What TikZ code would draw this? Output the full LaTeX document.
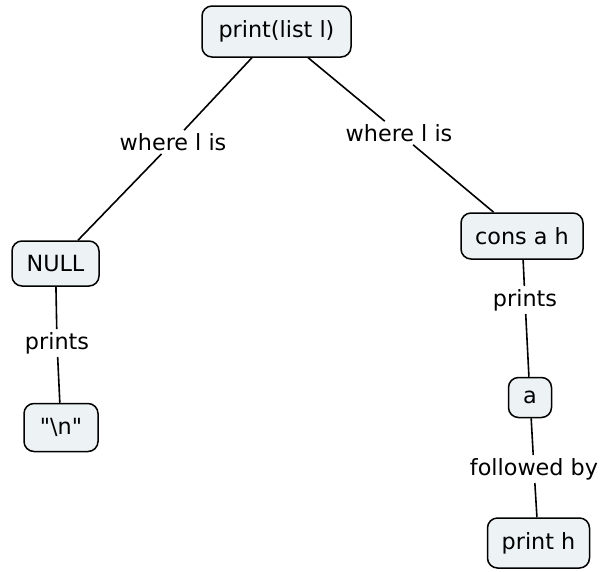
\documentclass[tikz,border=0pt]{standalone}
\usepackage{fontspec}
\setmainfont{DejaVu Sans}[Ligatures=TeXOff]
\definecolor{boxfill}{HTML}{EDF3F5}
\tikzset{
  concept/.style={draw=black, fill=boxfill, rounded corners=10pt, line width=1.5pt,
    inner sep=0pt, align=center, font=\fontsize{22.3}{26}\selectfont},
  linklabel/.style={inner sep=3pt, font=\fontsize{22.3}{26}\selectfont},
  link/.style={line width=1.6pt, draw=black}
}
\begin{document}
\begin{tikzpicture}[x=1pt,y=-1pt]
\useasboundingbox (0,0) rectangle (600,571);
% concepts
\node[concept, minimum width=149pt, minimum height=51pt] (root) at (276.5,31.5) {print(list l)};
\node[concept, minimum width=87pt, minimum height=45pt] (null) at (55.5,263.5) {NULL};
\node[concept, minimum width=74pt, minimum height=48pt] (nl) at (61,427.5) {"\textbackslash n"};
\node[concept, minimum width=122pt, minimum height=46pt] (cons) at (522,236) {cons a h};
\node[concept, minimum width=43pt, minimum height=40pt] (a) at (530,397.5) {a};
\node[concept, minimum width=102pt, minimum height=50pt] (ph) at (538.5,543) {print h};
% link labels
\node[linklabel] (l1) at (173,142) {where l is};
\node[linklabel] (l2) at (399,133) {where l is};
\node[linklabel] (l3) at (57,343) {prints};
\node[linklabel] (l4) at (525,300) {prints};
\node[linklabel] (l5) at (534,469) {followed by};
% links
\draw[link] (root) -- (l1) -- (null);
\draw[link] (root) -- (l2) -- (cons);
\draw[link] (null) -- (l3) -- (nl);
\draw[link] (cons) -- (l4) -- (a);
\draw[link] (a) -- (l5) -- (ph);
\end{tikzpicture}
\end{document}
